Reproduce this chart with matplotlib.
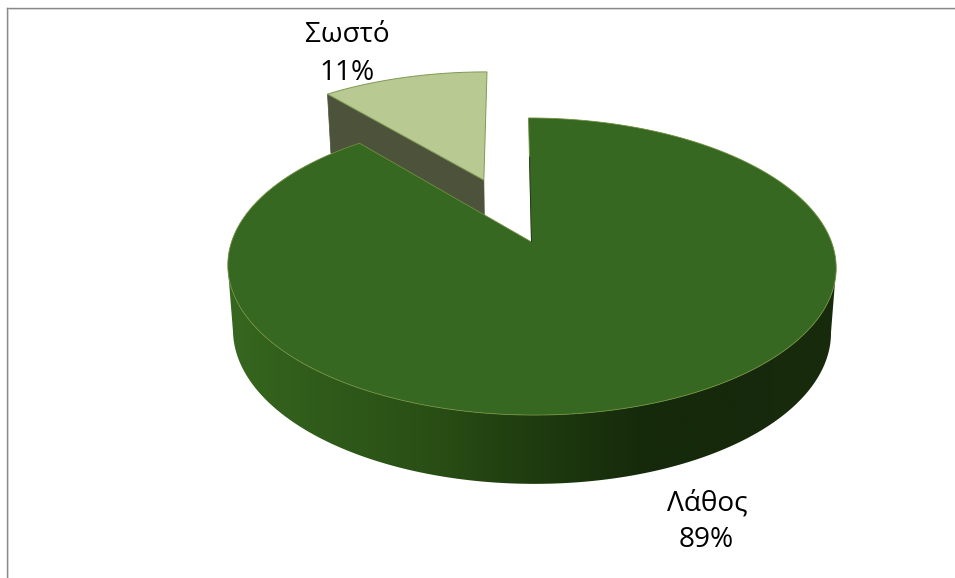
import numpy as np
import matplotlib
matplotlib.use("Agg")
import matplotlib.pyplot as plt
from matplotlib.colors import LinearSegmentedColormap, to_rgb
from matplotlib.patches import Polygon

categories = ["Λάθος", "Σωστό"]
values = [89, 11]
explode = [0.0, 0.49]
top_colors = ["#376822", "#b8c992"]

plt.rcParams["font.family"] = ["Open Sans", "DejaVu Sans"]
W, H = 955, 578
fig = plt.figure(figsize=(W / 100, H / 100), dpi=100)
ax = fig.add_axes([0, 0, 1, 1])
ax.set_xlim(0, W)
ax.set_ylim(H, 0)
ax.axis("off")

# perspective projection of the pie disc
CX, CY, A, B, K, SHEAR = 531.5, 242.0, 300.0, 144.5, 0.165, -3.0


def project(u, v, lower=False):
    u, v = np.asarray(u, float), np.asarray(v, float)
    w = 1 + K * v
    x = A * u / w
    y = CY - B * v / w
    if lower:
        x = x * 0.983
        y = y + 64.0 / (1 + 0.07 * v)
    return CX + x + SHEAR * v, y


def disc(theta, off):
    return np.sin(theta) + off[0], np.cos(theta) + off[1]


total = sum(values)
fracs = np.array(values) / total
starts = np.concatenate([[0], np.cumsum(fracs)[:-1]]) * 2 * np.pi
ends = np.cumsum(fracs) * 2 * np.pi
mids = (starts + ends) / 2
offsets = [(e * np.sin(m), e * np.cos(m)) for e, m in zip(explode, mids)]

# frame (open on the right and bottom: the picture is cropped there)
ax.plot([7, 7], [H, 8], color="#8a8a8a", lw=1.0, solid_joinstyle="miter", zorder=1)
ax.plot([7, W], [8, 8], color="#8a8a8a", lw=1.0, solid_joinstyle="miter", zorder=1)
ax.plot([8.2, W], [9.2, 9.2], color="#d4d4d4", lw=0.7, zorder=1)
ax.plot([8.2, 8.2], [H, 9.2], color="#d4d4d4", lw=0.7, zorder=1)

# exploded small slice: cut wall on its left side, then the top face
i = 1
off = offsets[i]
t = np.linspace(starts[i], ends[i], 60)
au, av = disc(t, off)
tx, ty = project(au, av)
cx0, cy0 = project(off[0], off[1])
cx1, cy1 = project(off[0], off[1], lower=True)
lx, ly = project(au[0], av[0], lower=True)
ax.add_patch(Polygon([(tx[0], ty[0]), (cx0, cy0), (cx1, cy1), (lx, ly)],
                     closed=True, fc="#4d533a", ec="#4d533a", lw=0.5, zorder=2))
ax.add_patch(Polygon(np.r_[[[cx0, cy0]], np.c_[tx, ty]], closed=True,
                     fc=top_colors[i], ec="#7f9a55", lw=0.7, zorder=3))

# main slice: gradient rim (front part only) + top
i = 0
off = offsets[i]
t = np.linspace(starts[i], ends[i], 800)
au, av = disc(t, off)
tx, ty = project(au, av)
bx, by = project(au, av, lower=True)
front = av <= -K
x0, x1 = 226.0, 840.0
stops_x = np.array([x0, 330, 430, 530, 650, 740, x1])
stops_c = ["#36671f", "#2f5a1a", "#2a4f15", "#1f3c10", "#15290b", "#17290c", "#182c0d"]
cmap = LinearSegmentedColormap.from_list(
    "rim", [((s - x0) / (x1 - x0), to_rgb(c)) for s, c in zip(stops_x, stops_c)], N=512)
rim = Polygon(np.r_[np.c_[tx[front], ty[front]], np.c_[bx[front], by[front]][::-1]], closed=True,
              fc="none", ec="none", transform=ax.transData)
ax.add_patch(rim)
im = ax.imshow(np.linspace(0, 1, 614)[None, :], extent=(x0, x1, 500, 100), aspect="auto",
               cmap=cmap, zorder=4, interpolation="bilinear")
im.set_clip_path(rim)
ax.set_xlim(0, W)
ax.set_ylim(H, 0)

cx0, cy0 = project(off[0], off[1])
ax.add_patch(Polygon(np.r_[[[cx0, cy0]], np.c_[tx, ty]], closed=True,
                     fc=top_colors[i], ec="#6f8f3d", lw=0.6, zorder=5))
ex, ey = project(np.zeros(2), np.array([0.65, 0.0]))
ax.plot(ex, ey, color="#22341a", lw=0.7, zorder=6)

# labels
label_pos = [((707, 504), (706, 540)), ((347, 35), (347, 73))]
for name, frac, (p1, p2) in zip(categories, fracs, label_pos):
    ax.text(p1[0], p1[1], name, ha="center", va="center", fontsize=20.2, color="black", zorder=8)
    ax.text(p2[0], p2[1], f"{round(frac * 100)}%", ha="center", va="center", fontsize=20.2,
            color="black", zorder=8)

fig.savefig("out.png", dpi=100, facecolor="white")
